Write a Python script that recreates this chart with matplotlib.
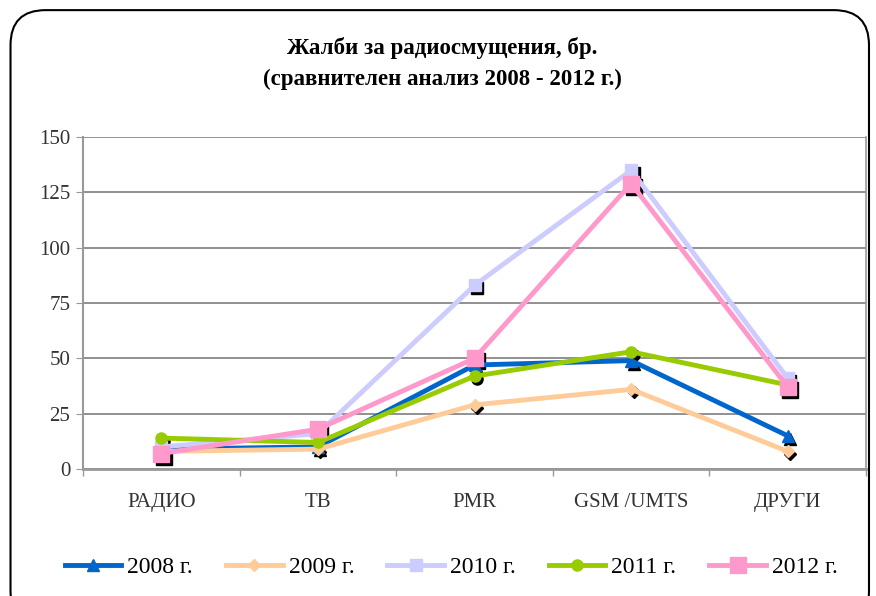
import numpy as np
import matplotlib.pyplot as plt
from matplotlib import transforms
from matplotlib.patches import FancyBboxPatch

plt.rcParams['font.family'] = ['Liberation Serif', 'DejaVu Serif']

categories = ['РАДИО', 'ТВ', 'PMR', 'GSM /UMTS', 'ДРУГИ']
years = ['2008 г.', '2009 г.', '2010 г.', '2011 г.', '2012 г.']
v2008 = [9, 10, 47, 49, 15]
v2009 = [8, 9, 29, 36, 8]
v2010 = [10, 16, 83, 135, 41]
v2011 = [14, 12, 42, 53, 38]
v2012 = [7, 18, 50, 129, 37]
series = [v2008, v2009, v2010, v2011, v2012]
colors = ['#0066cc', '#ffcc99', '#ccccff', '#99cc00', '#ff99cc']
markers = ['^', 'D', 's', 'o', 's']
msizes = [9, 6, 9, 8, 12]

fig = plt.figure(figsize=(8.76, 5.96), dpi=100)
fig.patches.append(FancyBboxPatch((0.012, -0.05), 0.98, 1.033,
                                  boxstyle='round,pad=0,rounding_size=0.04',
                                  transform=fig.transFigure, facecolor='none',
                                  edgecolor='black', lw=1.5, mutation_aspect=876/596))
ax = fig.add_axes([0.0947, 0.213, 0.894, 0.557])
x = np.arange(len(categories))
shadow = transforms.offset_copy(ax.transData, fig=fig, x=2.5, y=-3, units='dots')
for vals, c, m, ms, lab in zip(series, colors, markers, msizes, years):
    ax.plot(x, vals, linestyle='none', marker=m, markersize=ms, color='black',
            transform=shadow, zorder=2)
    ax.plot(x, vals, color=c, lw=3.5, marker=m, markersize=ms, label=lab, zorder=3)

ax.set_xlim(-0.5, 4.5)
ax.set_ylim(0, 150)
ax.set_yticks(range(0, 151, 25))
ax.set_xticks(x)
ax.set_xticklabels(categories)
ax.set_xticks(np.arange(-0.5, 5, 1), minor=True)
ax.tick_params(axis='x', which='major', length=0, pad=17, labelsize=15, labelcolor='#333333')
ax.tick_params(axis='x', which='minor', length=5, color='#999999', width=1)
ax.tick_params(axis='y', length=5, color='#999999', labelsize=15, labelcolor='#333333', pad=4)
ax.grid(axis='y', color='#888888', lw=1.3)
ax.set_axisbelow(True)
for s in ['left', 'bottom', 'right']:
    ax.spines[s].set_color('#999999')
ax.spines['bottom'].set_linewidth(2)
ax.spines['left'].set_linewidth(1.5)
ax.spines['right'].set_linewidth(1.2)
ax.spines['top'].set_visible(False)

fig.text(0.505, 0.919, 'Жалби за радиосмущения, бр.', ha='center', va='center',
         fontsize=16.5, fontweight='bold')
fig.text(0.505, 0.866, '(сравнителен анализ 2008 - 2012 г.)', ha='center', va='center',
         fontsize=16.5, fontweight='bold')
fig.legend(loc='center', bbox_to_anchor=(0.515, 0.048), ncol=5, frameon=False,
           fontsize=17, handlelength=2.4, columnspacing=1.4, handletextpad=0.25)
fig.savefig('out.png', dpi=100)
